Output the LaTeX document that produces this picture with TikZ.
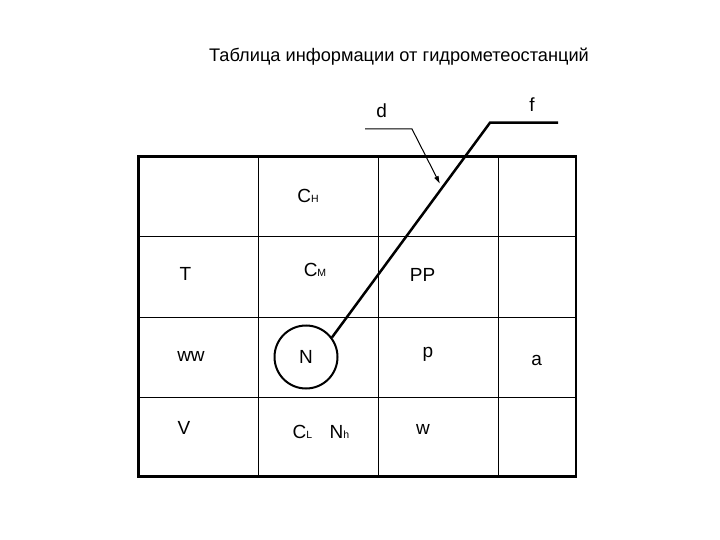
\documentclass[tikz,border=0pt]{standalone}
\usepackage{fontspec}
\setmainfont{Liberation Sans}
\usetikzlibrary{arrows.meta}
\newcommand{\idx}[1]{{\fontsize{10.5}{10.5}\selectfont #1}}
\begin{document}
\begin{tikzpicture}[x=1pt, y=-1pt,
    lbl/.style = {anchor=base, inner sep=0pt, font=\fontsize{19}{19}\selectfont},
    grid/.style = {line width=1pt},
    frame/.style = {line width=2.2pt},
    lead/.style = {line width=2.5pt}]
    \useasboundingbox (0,0) rectangle (720,540);
    \node[anchor=base, inner sep=0pt, font=\fontsize{18.2}{18.2}\selectfont] (title) at (399,61.5) {Таблица информации от гидрометеостанций};
    % table
    \draw[grid] (258,156.5) -- (258,476.5);
    \draw[grid] (378,156.5) -- (378,476.5);
    \draw[grid] (498,156.5) -- (498,476.5);
    \draw[grid] (138.5,236) -- (576,236);
    \draw[grid] (138.5,317) -- (576,317);
    \draw[grid] (138.5,397) -- (576,397);
    \draw[frame] (138.5,156.5) rectangle (576,476.5);
    % cells
    \node[lbl] (ch) at (308,202.7) {C\idx{H}};
    \node[lbl] (t) at (185.5,280) {T};
    \node[lbl] (cm) at (315,276.7) {C\idx{M}};
    \node[lbl] (pp) at (422.5,281.7) {PP};
    \node[lbl] (ww) at (191,361.7) {ww};
    \node[draw, circle, line width=2pt, minimum size=63pt, inner sep=0pt, font=\fontsize{19}{19}\selectfont] (n) at (306,357) {N};
    \node[lbl] (p) at (428,357) {p};
    \node[lbl] (a) at (536.7,365.7) {a};
    \node[lbl] (v) at (184,434.3) {V};
    \node[lbl] (cl) at (302.5,438.3) {C\idx{L}};
    \node[lbl] (nh) at (339.5,438.3) {N\idx{h}};
    \node[lbl] (w) at (423,434) {w};
    % leaders
    \node[lbl] (d) at (381.7,117.3) {d};
    \node[lbl] (f) at (532,111.7) {f};
    \coordinate (dstart) at (365,129);
    \coordinate (dknee) at (412,129);
    \coordinate (dtip) at (440,184);
    \draw[line width=1pt, -{Latex[length=8pt,width=5pt]}] (dstart) -- (dknee) -- (dtip);
    \coordinate (fstart) at (558,122.7);
    \coordinate (fknee) at (490,122.7);
    \draw[lead] (fstart) -- (fknee) -- (n.37);
\end{tikzpicture}
\end{document}
